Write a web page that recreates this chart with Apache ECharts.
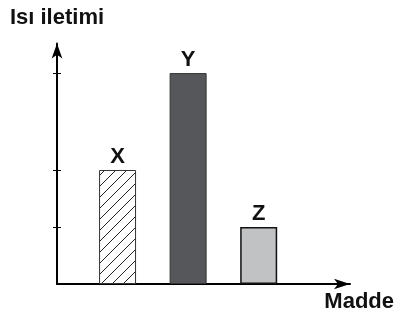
<!DOCTYPE html>
<html>
<head>
<meta charset="utf-8">
<script src="https://cdn.jsdelivr.net/npm/echarts@6/dist/echarts.min.js"></script>
<style>
  html, body { margin: 0; padding: 0; background: #fff; }
  #chart { width: 394px; height: 316px; }
</style>
</head>
<body>
<div id="chart"></div>
<script>
// data (relative heights, Z = 1)
var categories = ["X", "Y", "Z"];
var values = [2, 3.7, 1];
var tickValues = [1, 2, 3.7];

// diagonal hatch for the first bar
function hatch() {
  var c = document.createElement("canvas");
  var s = 11;
  c.width = s;
  c.height = s;
  var ctx = c.getContext("2d");
  ctx.fillStyle = "#fff";
  ctx.fillRect(0, 0, s, s);
  ctx.strokeStyle = "#222";
  ctx.lineWidth = 1;
  ctx.beginPath();
  ctx.moveTo(-1, s + 1);
  ctx.lineTo(s + 1, -1);
  ctx.moveTo(-2, 2);
  ctx.lineTo(2, -2);
  ctx.moveTo(s - 2, s + 2);
  ctx.lineTo(s + 2, s - 2);
  ctx.stroke();
  return c;
}

var barStyles = [
  { color: { image: hatch(), repeat: "repeat" }, borderColor: "#333", borderWidth: 1 },
  { color: "#56575a", borderColor: "#333", borderWidth: 1 },
  { color: "#c1c2c4", borderColor: "#111", borderWidth: 1.5 }
];

var chart = echarts.init(document.getElementById("chart"));
chart.setOption({
  animation: false,
  grid: { left: 57, right: 44, top: 43.5, bottom: 32, outerBoundsMode: "none" },
  xAxis: {
    type: "value",
    min: 0.142,
    max: 4.294,
    name: "Madde",
    nameLocation: "end",
    nameGap: 44,
    nameTextStyle: {
      align: "right",
      verticalAlign: "top",
      padding: [7, 0, 0, 0],
      fontSize: 22,
      fontWeight: "bold",
      color: "#111",
      fontFamily: "Liberation Sans"
    },
    axisLine: {
      lineStyle: { color: "#000", width: 2 },
      symbol: ["none", "arrow"],
      symbolSize: [8, 16]
    },
    axisTick: { show: false },
    axisLabel: { show: false },
    splitLine: { show: false }
  },
  yAxis: [
    {
      type: "value",
      min: 0,
      max: 4.219,
      name: "Isı iletimi",
      nameLocation: "end",
      nameGap: 15,
      nameTextStyle: {
        fontSize: 22,
        fontWeight: "bold",
        color: "#111",
        fontFamily: "Liberation Sans"
      },
      axisLine: {
        lineStyle: { color: "#000", width: 2 },
        symbol: ["none", "arrow"],
        symbolSize: [8, 15]
      },
      axisTick: {
        show: true,
        length: 4,
        customValues: tickValues,
        lineStyle: { color: "#000", width: 1 }
      },
      axisLabel: { show: false },
      splitLine: { show: false }
    },
    {
      type: "value",
      position: "left",
      min: 0,
      max: 4.219,
      axisLine: { show: false },
      axisTick: {
        show: true,
        inside: true,
        length: 4,
        customValues: tickValues,
        lineStyle: { color: "#000", width: 1 }
      },
      axisLabel: { show: false },
      splitLine: { show: false }
    }
  ],
  series: [
    {
      type: "bar",
      barWidth: 37,
      data: values.map(function (v, i) {
        return {
          value: [i + 1, v],
          name: categories[i],
          itemStyle: barStyles[i]
        };
      }),
      label: {
        show: true,
        position: "top",
        distance: 2,
        formatter: function (p) { return p.name; },
        fontSize: 22,
        fontWeight: "bold",
        color: "#111",
        fontFamily: "Liberation Sans"
      }
    }
  ]
});
</script>
</body>
</html>
